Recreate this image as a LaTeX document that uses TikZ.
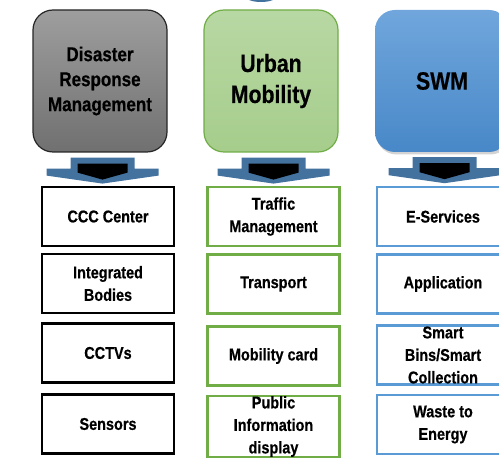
\documentclass[tikz,border=0pt]{standalone}
\usepackage{fontspec}
\setmainfont{Liberation Sans}[FakeStretch=0.85,BoldFeatures={FakeBold=0.5}]
\usetikzlibrary{calc,shadows}

\definecolor{arrowblue}{RGB}{68,114,159}
\definecolor{drmtop}{RGB}{158,158,158}
\definecolor{drmbot}{RGB}{112,112,112}
\definecolor{umtop}{RGB}{184,216,163}
\definecolor{umbot}{RGB}{166,205,140}
\definecolor{umline}{RGB}{112,173,71}
\definecolor{swmtop}{RGB}{112,166,220}
\definecolor{swmbot}{RGB}{72,136,200}
\definecolor{swmline}{RGB}{91,155,213}

\tikzset{
  head/.style={rounded corners=20pt,minimum width=134pt,minimum height=142pt,
    align=center,inner sep=0pt},
  sub/.style={minimum width=132pt,minimum height=59pt,align=center,inner sep=0pt,
    fill=white,font=\bfseries\fontsize{17}{22.5}\selectfont},
  subdrm/.style={sub,draw=black,line width=2.6pt},
  subum/.style={sub,draw=umline,line width=2.2pt},
  subswm/.style={sub,draw=swmline,line width=2.2pt},
}

\begin{document}
\begin{tikzpicture}[x=1pt,y=-1pt]
\useasboundingbox (0,0) rectangle (499,462);
\clip (0,0) rectangle (499,462);

% piece of a shape above the frame
\fill[arrowblue] (261,-4) ellipse (16 and 6);

% headings
\node[head,draw=black!85,line width=1.2pt,top color=drmtop,bottom color=drmbot,
  font=\bfseries\fontsize{20}{25}\selectfont] (drm) at (100,81)
  {Disaster\\Response\\Management};
\node[head,draw=umline,line width=1.2pt,top color=umtop,bottom color=umbot,
  font=\bfseries\fontsize{25}{31}\selectfont] (um) at (271,81)
  {Urban\\Mobility};
\node[head,top color=swmtop,bottom color=swmbot,
  drop shadow={opacity=0.35,shadow xshift=1.5pt,shadow yshift=-2.5pt},
  font=\bfseries\fontsize{25}{31}\selectfont] (swm) at (442,81)
  {SWM};

% block arrows
\foreach \h in {drm,um,swm}{
  \begin{scope}[shift={($(\h.south)+(2.5,0)$)}]
    \fill[arrowblue] (-32,5) -- (32,5) -- (32,16) -- (56,16) -- (56,23) -- (0,31)
      -- (-56,23) -- (-56,16) -- (-32,16) -- cycle;
    \fill[black] (-25,11) -- (25,11) -- (25,20) -- (0,27) -- (-25,20) -- cycle;
  \end{scope}
}

% Disaster Response Management
\node[subdrm] (ccc) at (108,216.5) {CCC Center};
\node[subdrm] (ibodies) at (108,283.5) {Integrated\\Bodies};
\node[subdrm] (cctv) at (108,353) {CCTVs};
\node[subdrm] (sensors) at (108,424) {Sensors};

% Urban Mobility
\node[subum] (traffic) at (273.5,216.5) {Traffic\\Management};
\node[subum] (transport) at (273.5,284) {Transport};
\node[subum] (mcard) at (273.5,356) {Mobility card};
\node[subum] (pid) at (273.5,426.5) {Public\\Information\\display};

% SWM
\node[subswm] (eserv) at (443,216.5) {E-Services};
\node[subswm] (app) at (443,284) {Application};
\node[subswm] (bins) at (443,355) {Smart\\Bins/Smart\\Collection};
\node[subswm] (wte) at (443,424.5) {Waste to\\Energy};

\end{tikzpicture}
\end{document}
